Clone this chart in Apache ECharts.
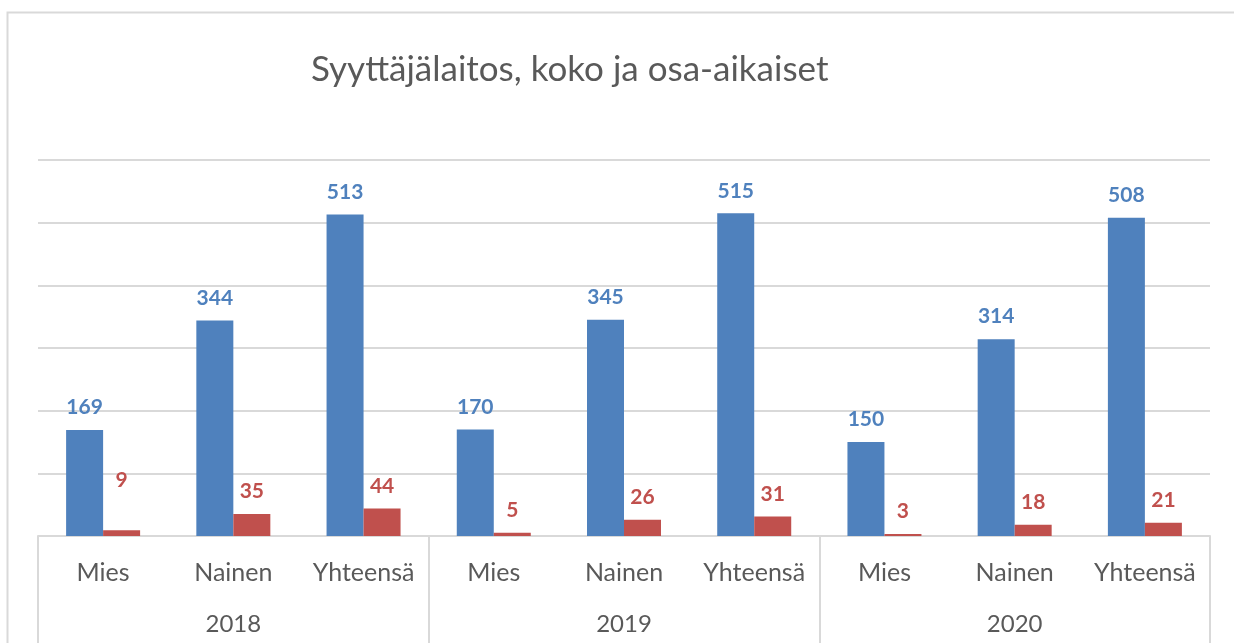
<!DOCTYPE html>
<html>
<head>
<meta charset="utf-8">
<script src="https://cdn.jsdelivr.net/npm/echarts@6/dist/echarts.min.js"></script>
<style>html,body{margin:0;padding:0;background:#fff}#c{width:1234px;height:643px}</style>
</head>
<body>
<div id="c"></div>
<script>
const title = 'Syyttäjälaitos, koko ja osa-aikaiset';
const categories = ['Mies','Nainen','Yhteensä','Mies','Nainen','Yhteensä','Mies','Nainen','Yhteensä'];
const years = ['2018','2019','2020'];
const kokoaikaiset = [169,344,513,170,345,515,150,314,508];
const osaaikaiset = [9,35,44,5,26,31,3,18,21];
const yTicks = {min:0, max:600, interval:100};

const FONT = 'Lato, "Open Sans", sans-serif';
const chart = echarts.init(document.getElementById('c'), null, {renderer:'canvas'});

const redData = osaaikaiset.map((v,i)=> i===0 ? {value:v, label:{offset:[0,-28]}} : v);

chart.setOption({
  animation:false,
  backgroundColor:'#fff',
  title:{
    text:title, left:306, top:47,
    textStyle:{fontFamily:FONT, fontSize:35, fontWeight:'normal', color:'#595959'}
  },
  graphic:[{
    type:'rect', shape:{x:7.5,y:12.5,width:1300,height:700},
    style:{fill:'none', stroke:'#d9d9d9', lineWidth:2}, silent:true
  }],
  grid:{left:38, right:24, top:160, bottom:107, containLabel:false},
  xAxis:[{
    type:'category', data:categories, position:'bottom',
    axisLine:{show:true, lineStyle:{color:'#d9d9d9', width:2}},
    axisTick:{show:false},
    axisLabel:{interval:0, margin:24, fontFamily:FONT, fontSize:25, color:'#595959'}
  },{
    type:'category', data:years, position:'bottom', offset:0,
    axisLine:{show:false},
    axisTick:{show:true, interval:0, length:120, lineStyle:{color:'#d9d9d9', width:2}},
    axisLabel:{interval:0, margin:76, fontFamily:FONT, fontSize:24, color:'#595959'}
  }],
  yAxis:{
    type:'value', min:yTicks.min, max:yTicks.max, interval:yTicks.interval,
    axisLabel:{show:false}, axisLine:{show:false}, axisTick:{show:false},
    splitLine:{lineStyle:{color:'#d9d9d9', width:2}}
  },
  series:[{
    type:'bar', name:'Kokoaikaiset', data:kokoaikaiset, xAxisIndex:0,
    barWidth:37, barGap:'0%',
    itemStyle:{color:'#4F81BD'},
    label:{show:true, position:'top', distance:12, fontFamily:FONT, fontSize:21, fontWeight:'bold', color:'#4F81BD'}
  },{
    type:'bar', name:'Osa-aikaiset', data:redData, xAxisIndex:0,
    barWidth:37, barGap:'0%',
    itemStyle:{color:'#C0504D'},
    label:{show:true, position:'top', distance:12, fontFamily:FONT, fontSize:21, fontWeight:'bold', color:'#C0504D'}
  }]
});
</script>
</body>
</html>
